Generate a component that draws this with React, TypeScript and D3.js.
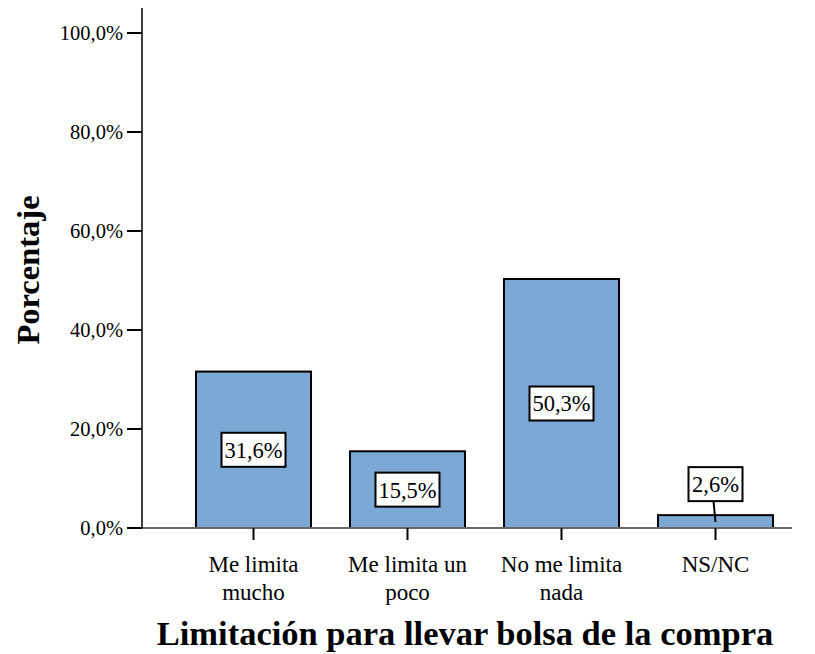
import React from "react";
import * as d3 from "d3";

const categories = [["Me limita", "mucho"], ["Me limita un", "poco"], ["No me limita", "nada"], ["NS/NC"]];
const values = [31.6, 15.5, 50.3, 2.6];
const valueLabels = ["31,6%", "15,5%", "50,3%", "2,6%"];
const yTicks = [0, 20, 40, 60, 80, 100];
const tickLabels = ["0,0%", "20,0%", "40,0%", "60,0%", "80,0%", "100,0%"];

export default function App() {
  const W = 815, H = 654;
  const axisX = 142;
  const y = d3.scaleLinear().domain([0, 100]).range([528, 33]);
  const x = d3.scaleBand<number>().domain(d3.range(values.length)).range([176.5, 792.5]).paddingInner(0.253).paddingOuter(0.1265);
  const ff = { fontFamily: "Liberation Serif" };
  return (
    <svg width={W} height={H} style={{ position: "absolute", left: 0, top: 0 }}>
      <rect width={W} height={H} fill="white" />
      {values.map((v, i) => {
        const x0 = x(i)!;
        const bw = x.bandwidth();
        return (
          <rect key={i} x={x0} y={y(v)} width={bw} height={y(0) - y(v)} fill="#7BA8D5" stroke="black" strokeWidth={2} />
        );
      })}
      <line x1={axisX} x2={792} y1={y(0)} y2={y(0)} stroke="#666" strokeWidth={2} />
      <line x1={axisX} x2={axisX} y1={8} y2={y(0)} stroke="black" strokeWidth={1.5} />
      {yTicks.map((t, i) => (
        <g key={t}>
          <line x1={127} x2={axisX} y1={y(t)} y2={y(t)} stroke="black" strokeWidth={2} />
          <text x={123} y={y(t)} dy="0.35em" textAnchor="end" fontSize={20.5} style={ff}>{tickLabels[i]}</text>
        </g>
      ))}
      {values.map((v, i) => {
        const cx = x(i)! + x.bandwidth() / 2;
        return (
          <g key={"t" + i}>
            <line x1={cx} x2={cx} y1={y(0)} y2={y(0) + 12} stroke="black" strokeWidth={2} />
            {categories[i].map((s, j) => (
              <text key={j} x={cx} y={y(0) + 44 + j * 28} textAnchor="middle" fontSize={23} style={ff}>{s}</text>
            ))}
          </g>
        );
      })}
      {values.map((v, i) => {
        const cx = x(i)! + x.bandwidth() / 2;
        const small = y(0) - y(v) < 40;
        const cy = small ? y(v) - 31 : (y(v) + y(0)) / 2;
        const bw = valueLabels[i].length > 4 ? 64 : 54;
        return (
          <g key={"l" + i}>
            {small && <line x1={cx - 2} x2={cx} y1={cy + 17} y2={y(0) - 6} stroke="black" strokeWidth={2} />}
            <rect x={cx - bw / 2} y={cy - 17} width={bw} height={34} fill="white" stroke="black" strokeWidth={2} />
            <text x={cx} y={cy} dy="0.35em" textAnchor="middle" fontSize={22.5} style={ff}>{valueLabels[i]}</text>
          </g>
        );
      })}
      <text transform={`translate(39,270) rotate(-90)`} textAnchor="middle" fontSize={32.5} fontWeight="bold" style={ff}>Porcentaje</text>
      <text x={465} y={645} textAnchor="middle" fontSize={34.5} fontWeight="bold" style={ff}>Limitación para llevar bolsa de la compra</text>
    </svg>
  );
}
